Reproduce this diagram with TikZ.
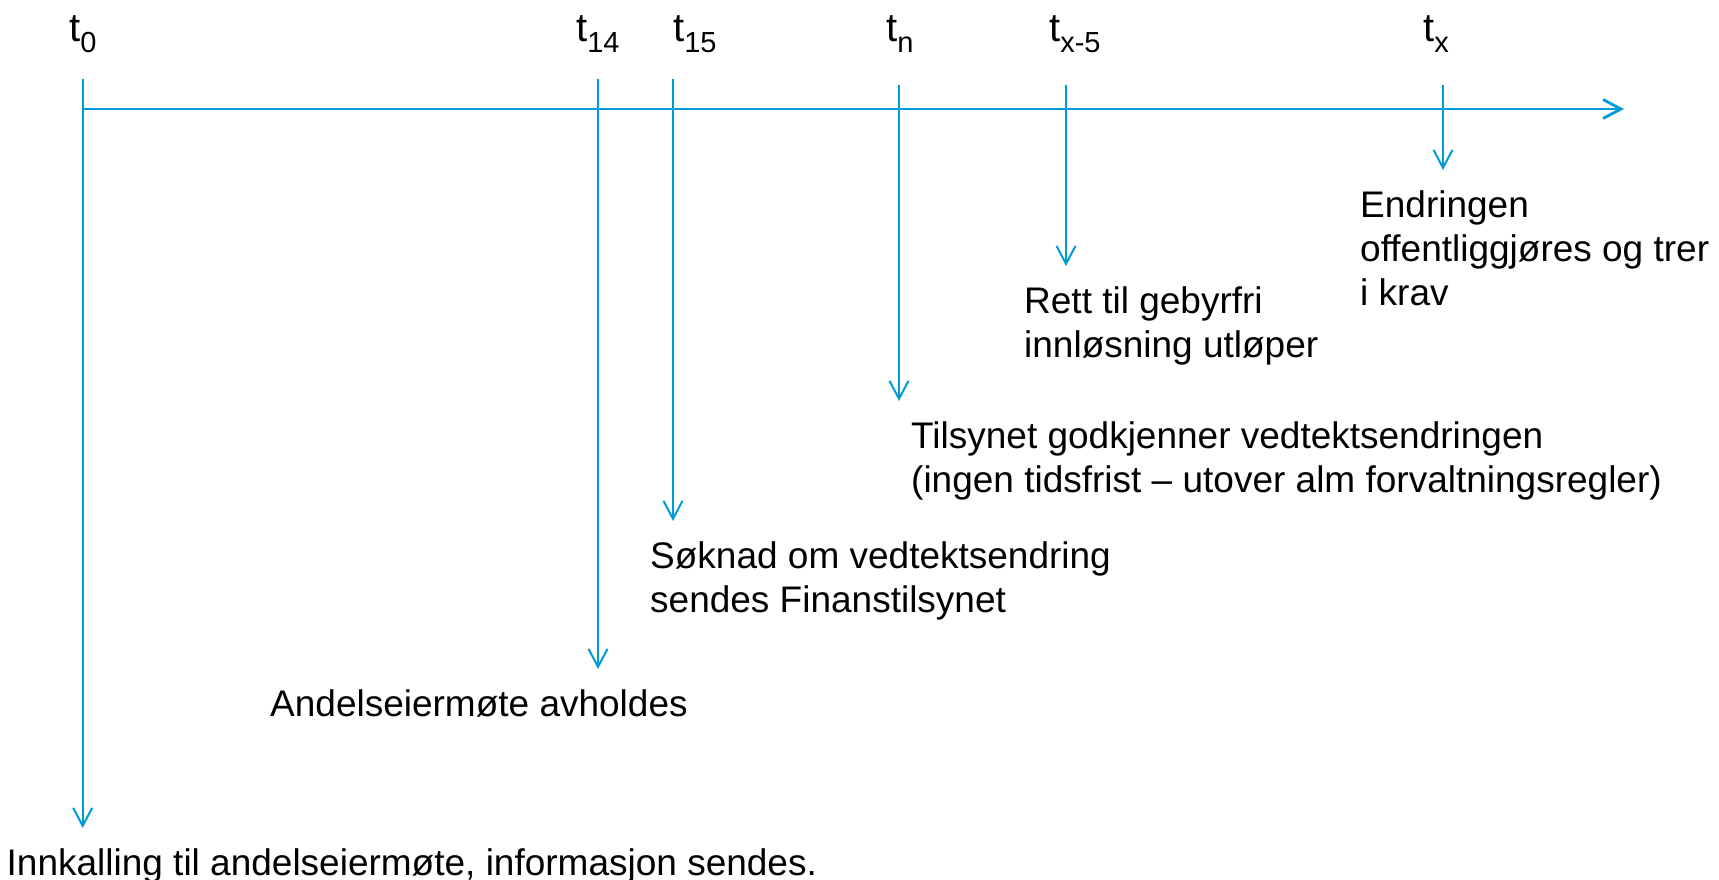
\documentclass[tikz,border=0pt]{standalone}
\usepackage{xcolor}
\usepackage{fontspec}
\setmainfont{Liberation Sans}
\usepackage{tikz}
\usetikzlibrary{calc}
\usetikzlibrary{arrows.meta}
\usetikzlibrary{positioning}
\definecolor{tlblue}{RGB}{0,155,215}
\tikzset{>={Straight Barb[length=18pt, width=19pt]}}
\tikzstyle{tlab} = [draw=none, inner sep = 0, anchor = base west, font = \fontsize{40}{44}\selectfont]
\tikzstyle{ev} = [draw=none, inner sep = 0, anchor = north west, align = left, font = \fontsize{37}{44}\selectfont]
\tikzstyle{axis} = [->, draw = tlblue, line width = 2.8pt]
\tikzstyle{tick} = [->, draw = tlblue, line width = 2pt, shorten >= 20pt]
\newcommand{\tsub}[1]{t\raisebox{-11.5pt}{\fontsize{29}{29}\selectfont #1}}

\begin{document}
\begin{tikzpicture}[x = 1pt, y = -1pt]
\useasboundingbox (0, 0) rectangle (1719, 880);
% time labels
\node [tlab] (t0)  at (69, 41.5)   {\tsub{0}};
\node [tlab] (t14) at (576, 41.5)  {\tsub{14}};
\node [tlab] (t15) at (673, 41.5)  {\tsub{15}};
\node [tlab] (tn)  at (886, 41.5)  {\tsub{n}};
\node [tlab] (tx5) at (1049, 41.5) {\tsub{x-5}};
\node [tlab] (tx)  at (1423, 41.5) {\tsub{x}};
% events
\node [ev] (ev0)  at (6.5, 848)  {Innkalling til andelseiermøte, informasjon sendes.};
\node [ev] (ev14) at (270, 689)  {Andelseiermøte avholdes};
\node [ev] (ev15) at (650, 541)  {Søknad om vedtektsendring\\sendes Finanstilsynet};
\node [ev] (evn)  at (911, 421)  {Tilsynet godkjenner vedtektsendringen\\(ingen tidsfrist – utover alm forvaltningsregler)};
\node [ev] (evx5) at (1024, 286) {Rett til gebyrfri\\innløsning utløper};
\node [ev] (evx)  at (1360, 190) {Endringen\\offentliggjøres og trer\\i krav};
% axis and ticks
\coordinate (o) at (82.7, 109);
\coordinate (end) at (1624, 109);
\coordinate (k0)  at (82.7, 79);
\coordinate (k14) at (598, 79);
\coordinate (k15) at (673, 79);
\coordinate (kn)  at (899, 85);
\coordinate (kx5) at (1066, 85);
\coordinate (kx)  at (1443, 85);
\draw [axis] (o) to (end);
\draw [tick] (k0) to (k0 |- ev0.north);
\draw [tick] (k14) to (k14 |- ev14.north);
\draw [tick] (k15) to (k15 |- ev15.north);
\draw [tick] (kn) to (kn |- evn.north);
\draw [tick] (kx5) to (kx5 |- evx5.north);
\draw [tick] (kx) to (kx |- evx.north);
\end{tikzpicture}
\end{document}
